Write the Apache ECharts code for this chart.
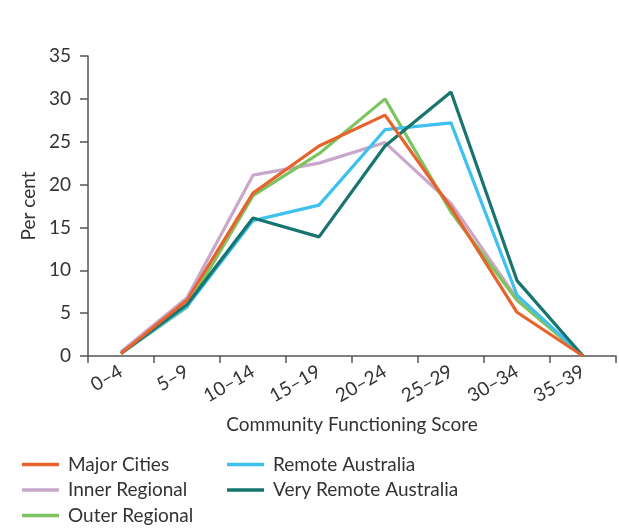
<!DOCTYPE html>
<html>
<head>
<meta charset="utf-8">
<script src="https://cdn.jsdelivr.net/npm/echarts@6/dist/echarts.min.js"></script>
<style>html,body{margin:0;padding:0;background:#fff}#c{width:619px;height:529px}</style>
</head>
<body>
<div id="c"></div>
<script>
const categories = ['0–4','5–9','10–14','15–19','20–24','25–29','30–34','35–39'];
const majorCities = [0.3, 6.5, 19.0, 24.5, 28.1, 17.3, 5.1, 0];
const innerRegional = [0.5, 6.8, 21.1, 22.5, 24.9, 17.8, 6.7, 0];
const outerRegional = [0.3, 5.7, 18.7, 23.6, 30.0, 16.8, 6.5, 0];
const remoteAustralia = [0.3, 5.8, 15.8, 17.6, 26.4, 27.2, 7.1, 0];
const veryRemoteAustralia = [0.3, 6.0, 16.1, 13.9, 24.5, 30.8, 8.8, 0];
const yTicks = {min: 0, max: 35, interval: 5};

const FONT = 'Lato';
const TXT = '#333';
const FS = 19;
const chart = echarts.init(document.getElementById('c'), null, {renderer: 'canvas'});
function line(name, data, color, z) {
  return {name, type: 'line', data, symbol: 'none', z,
    lineStyle: {width: 3.2, color}, itemStyle: {color}};
}
const legendBase = {orient: 'vertical', top: 455, padding: 0, itemWidth: 37, itemHeight: 3.5, itemGap: 6.5, icon: 'rect',
  textStyle: {fontFamily: FONT, fontSize: FS, color: TXT, padding: [0,0,0,4]}};
chart.setOption({
  backgroundColor: '#ffffff',
  animation: false,
  textStyle: {fontFamily: FONT},
  grid: {left: 88, right: 3, top: 56, bottom: 173, containLabel: false},
  legend: [
    Object.assign({}, legendBase, {left: 22, data: ['Major Cities','Inner Regional','Outer Regional']}),
    Object.assign({}, legendBase, {left: 227, data: ['Remote Australia','Very Remote Australia']})
  ],
  xAxis: {
    type: 'category', data: categories, boundaryGap: true,
    name: 'Community Functioning Score', nameLocation: 'middle', nameGap: 59,
    nameTextStyle: {fontFamily: FONT, fontSize: FS, color: TXT},
    axisLine: {lineStyle: {color: '#555', width: 1.5}},
    axisTick: {show: true, length: 7, alignWithLabel: false, lineStyle: {color: '#555', width: 1.5}},
    axisLabel: {rotate: 30, fontFamily: FONT, fontSize: FS, color: TXT, margin: 14, interval: 0}
  },
  yAxis: {
    type: 'value', min: yTicks.min, max: yTicks.max, interval: yTicks.interval,
    name: 'Per cent', nameLocation: 'middle', nameGap: 50,
    nameTextStyle: {fontFamily: FONT, fontSize: FS, color: TXT},
    axisLine: {show: true, lineStyle: {color: '#555', width: 1.5}},
    axisTick: {show: true, length: 8, lineStyle: {color: '#555', width: 1.5}},
    splitLine: {show: false},
    axisLabel: {fontFamily: FONT, fontSize: FS, color: TXT, margin: 17}
  },
  series: [
    line('Inner Regional', innerRegional, '#C9A7CB', 2),
    line('Outer Regional', outerRegional, '#7CC460', 3),
    line('Remote Australia', remoteAustralia, '#3EC1EE', 4),
    line('Very Remote Australia', veryRemoteAustralia, '#17746F', 5),
    line('Major Cities', majorCities, '#E8622B', 6)
  ]
});
</script>
</body>
</html>
